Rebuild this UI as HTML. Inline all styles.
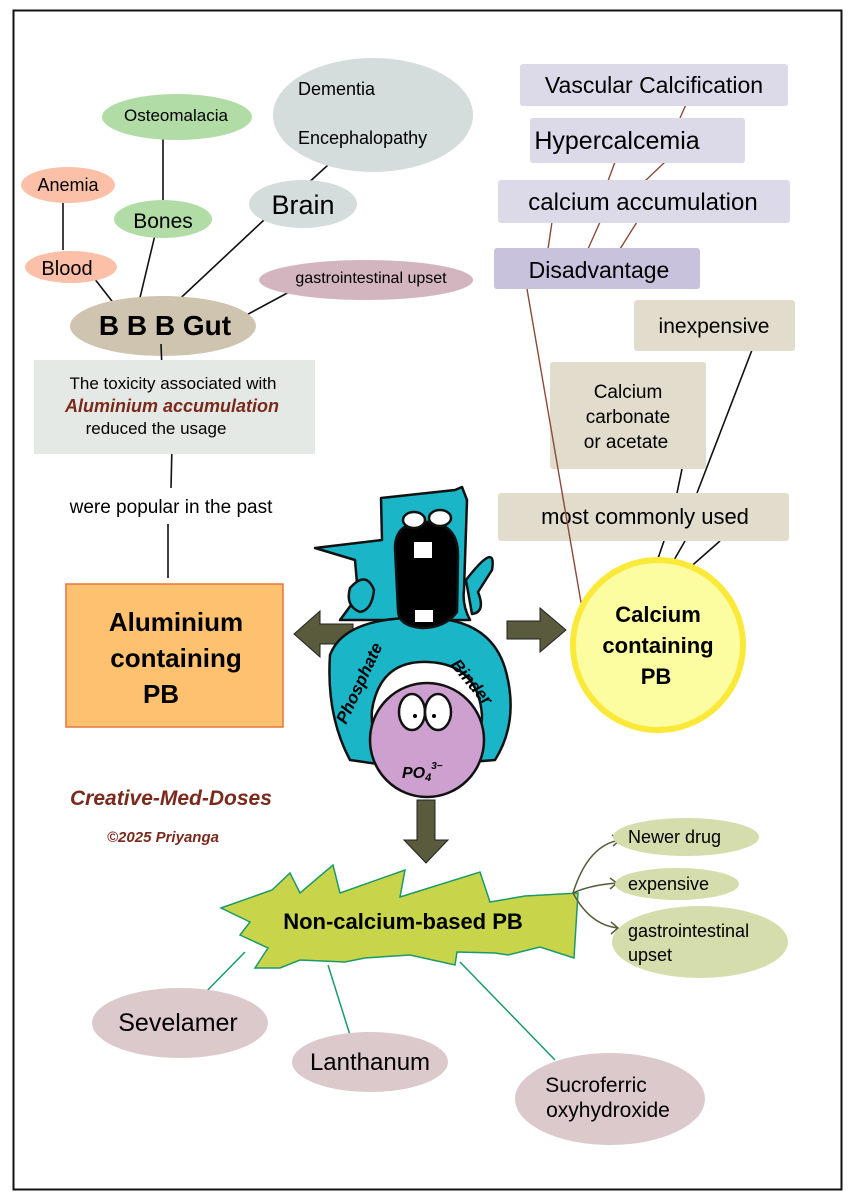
<!DOCTYPE html>
<html><head><meta charset="utf-8">
<style>
html,body{margin:0;padding:0;background:#fff;}
svg{display:block;}
text{font-family:"Liberation Sans",sans-serif;}
.hand{font-family:"Liberation Sans",sans-serif;font-weight:bold;font-style:italic;}
</style></head><body>
<svg width="857" height="1200" viewBox="0 0 857 1200" xmlns="http://www.w3.org/2000/svg">
<rect x="0" y="0" width="857" height="1200" fill="#fff"/>
<rect x="13.5" y="10.5" width="828" height="1179" fill="none" stroke="#111" stroke-width="2"/>

<g stroke="#111" stroke-width="1.6" fill="none">
<line x1="163" y1="130" x2="163" y2="201"/>
<line x1="63" y1="203" x2="63" y2="250"/>
<line x1="94" y1="278" x2="115" y2="305"/>
<line x1="155" y1="235" x2="138" y2="306"/>
<line x1="265" y1="219" x2="170" y2="308"/>
<line x1="340" y1="154" x2="305" y2="186"/>
<line x1="291" y1="291" x2="228" y2="325"/>
<line x1="172" y1="445" x2="171" y2="488"/>
<line x1="168" y1="524" x2="168" y2="578"/>
</g>

<ellipse cx="373" cy="115" rx="100" ry="57" fill="#d4dcdc"/>
<text x="298" y="95" font-size="18">Dementia</text>
<text x="298" y="144" font-size="18">Encephalopathy</text>
<ellipse cx="177" cy="117" rx="75" ry="23" fill="#b1dca6"/>
<text x="176" y="121" font-size="17" text-anchor="middle">Osteomalacia</text>
<ellipse cx="68" cy="185" rx="47" ry="18" fill="#fcc0a8"/>
<text x="68" y="191" font-size="18" text-anchor="middle">Anemia</text>
<ellipse cx="163" cy="219" rx="49" ry="19" fill="#b1dca6"/>
<text x="163" y="228" font-size="21" text-anchor="middle">Bones</text>
<ellipse cx="303" cy="204" rx="54" ry="24" fill="#d4dcdc"/>
<text x="303" y="214" font-size="27" text-anchor="middle">Brain</text>
<ellipse cx="71" cy="267" rx="46" ry="16" fill="#fcc0a8"/>
<text x="67" y="275" font-size="20" text-anchor="middle">Blood</text>
<ellipse cx="366" cy="280" rx="107" ry="20" fill="#d3b5c0"/>
<text x="371" y="283" font-size="16" text-anchor="middle">gastrointestinal upset</text>
<ellipse cx="163" cy="326" rx="93" ry="30" fill="#cfc4b0"/>
<text x="165" y="335" font-size="28" font-weight="bold" text-anchor="middle">B B B Gut</text>
<line x1="161" y1="344" x2="162" y2="370" stroke="#111" stroke-width="1.6"/>

<rect x="34" y="360" width="281" height="94" fill="#e5e9e6"/>
<text x="173" y="389" font-size="17" text-anchor="middle">The toxicity associated with</text>
<text x="172" y="412" font-size="18" font-weight="bold" fill="#7a2a1c" text-anchor="middle" font-style="italic">Aluminium accumulation</text>
<text x="156" y="434" font-size="17" text-anchor="middle">reduced the usage</text>
<text x="171" y="513" font-size="19" text-anchor="middle">were popular in the past</text>

<rect x="66" y="584" width="217" height="143" fill="#fec16f" stroke="#e8743e" stroke-width="1.5"/>
<text x="176" y="631" font-size="26" font-weight="bold" text-anchor="middle">Aluminium</text>
<text x="176" y="667" font-size="26" font-weight="bold" text-anchor="middle">containing</text>
<text x="161" y="703" font-size="26" font-weight="bold" text-anchor="middle">PB</text>

<text x="70" y="805" class="hand" font-size="21" fill="#7a2a1c">Creative-Med-Doses</text>
<text x="107" y="842" class="hand" font-size="15" fill="#7a2a1c">©2025 Priyanga</text>

<g stroke="#8b4a3a" stroke-width="1.4" fill="none">
<line x1="688" y1="100" x2="680" y2="118"/>
<line x1="615" y1="162" x2="608" y2="181"/>
<line x1="665" y1="162" x2="645" y2="181"/>
<line x1="552" y1="222" x2="548" y2="249"/>
<line x1="600" y1="222" x2="588" y2="249"/>
<line x1="637" y1="222" x2="620" y2="249"/>
</g>
<g stroke="#111" stroke-width="1.6" fill="none">
<line x1="752" y1="350" x2="697" y2="493"/>
<line x1="682" y1="469" x2="677" y2="493"/>
<line x1="664" y1="541" x2="655" y2="567"/>
<line x1="685" y1="541" x2="670" y2="567"/>
<line x1="720" y1="541" x2="687" y2="570"/>
</g>
<rect x="520" y="64" width="268" height="42" rx="3" fill="#dcdae8"/>
<text x="654" y="93" font-size="23" text-anchor="middle">Vascular Calcification</text>
<rect x="530" y="118" width="215" height="45" rx="3" fill="#dcdae8"/>
<text x="617" y="149" font-size="25" text-anchor="middle">Hypercalcemia</text>
<rect x="498" y="180" width="292" height="43" rx="3" fill="#dcdae8"/>
<text x="643" y="210" font-size="24" text-anchor="middle">calcium accumulation</text>
<rect x="494" y="248" width="206" height="41" rx="3" fill="#c8c2dc"/>
<text x="599" y="278" font-size="23" text-anchor="middle">Disadvantage</text>
<rect x="634" y="300" width="161" height="51" rx="3" fill="#e2dccd"/>
<text x="714" y="333" font-size="21" text-anchor="middle">inexpensive</text>
<rect x="550" y="362" width="156" height="107" rx="3" fill="#e2dccd"/>
<text x="628" y="398" font-size="19" text-anchor="middle">Calcium</text>
<text x="628" y="423" font-size="19" text-anchor="middle">carbonate</text>
<text x="626" y="448" font-size="19" text-anchor="middle">or acetate</text>
<rect x="498" y="493" width="291" height="48" rx="3" fill="#e2dccd"/>
<text x="645" y="524" font-size="22" text-anchor="middle">most commonly used</text>
<line x1="527" y1="289" x2="583" y2="614" stroke="#8b4a3a" stroke-width="1.4"/>

<circle cx="658" cy="645" r="85" fill="#fcfca0" stroke="#fbe93a" stroke-width="6"/>
<text x="658" y="622" font-size="22" font-weight="bold" text-anchor="middle">Calcium</text>
<text x="658" y="653" font-size="22" font-weight="bold" text-anchor="middle">containing</text>
<text x="656" y="684" font-size="22" font-weight="bold" text-anchor="middle">PB</text>

<g fill="#5a5a3c" stroke="#222" stroke-width="1">
<polygon points="353,624 320,624 320,611 294,634 320,657 320,644 353,644"/>
<polygon points="507,621 540,621 540,608 566,630 540,652 540,639 507,639"/>
<polygon points="417,800 435,800 435,840 448,840 426,863 404,840 417,840"/>
</g>

<g stroke="#111" stroke-width="2.5" stroke-linejoin="round">
<path d="M381,498 L455,490 L462,487 L467,500 L464,590 Q462,605 470,620 L340,620 Q352,604 358,595 L355,560 L315,548 L382,540 Z" fill="#1ab6c8"/>
<path d="M350,588 Q366,570 374,590 Q372,610 360,612 Q345,606 350,588Z" fill="#1ab6c8"/>
<path d="M466,580 Q497,540 492,570 L478,592 Q486,612 472,614 Z" fill="#1ab6c8"/>
<path d="M330,655 Q326,715 350,760 L385,765 Q370,735 372,710 Q380,660 428,662 Q478,664 482,715 Q482,735 470,762 L495,760 Q520,720 505,668 Q490,620 430,618 Q345,615 330,655Z" fill="#1ab6c8"/>
<circle cx="427" cy="740" r="57" fill="#cda0d0"/>
<path d="M395,548 Q395,520 430,522 Q458,525 458,555 L457,612 Q445,628 422,628 Q398,626 398,610 Z" fill="#000"/>
<ellipse cx="412" cy="712" rx="13" ry="18" fill="#fff"/>
<ellipse cx="438" cy="712" rx="13" ry="18" fill="#fff"/>
<ellipse cx="414" cy="520" rx="11" ry="8" fill="#fff"/>
<ellipse cx="440" cy="518" rx="11" ry="8" fill="#fff"/>
</g>
<rect x="414" y="542" width="18" height="16" fill="#fff"/>
<rect x="415" y="610" width="18" height="12" fill="#fff"/>
<circle cx="415" cy="716" r="2" fill="#000"/><circle cx="434" cy="716" r="2" fill="#000"/>
<text x="402" y="778" font-size="16" class="hand">PO<tspan font-size="11" dy="3">4</tspan><tspan font-size="10" dy="-12">3−</tspan></text>
<text class="hand" font-size="17" transform="translate(346,725) rotate(-65)">Phosphate</text>
<text class="hand" font-size="17" transform="translate(450,665) rotate(50)">Binder</text>

<path d="M221,908 L272,890 L290,873 L300,893 L333,865 L340,893 L405,870 L400,897 L480,872 L490,902 L525,896 L578,893 L574,958 L540,947 L508,955 L495,953 L457,952 L455,965 L410,955 L365,958 L345,962 L300,960 L280,968 L255,968 L268,948 L240,935 L250,922 Z" fill="#c8d54a" stroke="#1a9a6a" stroke-width="1.5"/>
<text x="403" y="929" font-size="22" font-weight="bold" text-anchor="middle">Non-calcium-based PB</text>

<g stroke="#1a9a6a" stroke-width="1.5">
<line x1="245" y1="952" x2="198" y2="1000"/>
<line x1="328" y1="965" x2="350" y2="1035"/>
<line x1="460" y1="962" x2="555" y2="1060"/>
</g>
<g stroke="#5a5a3c" stroke-width="1.5" fill="none">
<path d="M573,893 Q588,845 620,840"/>
<path d="M573,893 Q590,885 617,883"/>
<path d="M573,893 Q590,925 618,928"/>
<path d="M612,835 L620,840 L613,846"/>
<path d="M610,878 L617,883 L610,889"/>
<path d="M611,922 L618,928 L611,934"/>
</g>
<ellipse cx="686" cy="837" rx="73" ry="19" fill="#d5ddac"/>
<text x="628" y="843" font-size="18">Newer drug</text>
<ellipse cx="677" cy="884" rx="62" ry="16" fill="#d5ddac"/>
<text x="628" y="890" font-size="18">expensive</text>
<ellipse cx="700" cy="942" rx="88" ry="36" fill="#d5ddac"/>
<text x="628" y="937" font-size="18">gastrointestinal</text>
<text x="628" y="961" font-size="18">upset</text>

<ellipse cx="180" cy="1023" rx="88" ry="35" fill="#dcc9cb"/>
<text x="178" y="1031" font-size="25" text-anchor="middle">Sevelamer</text>
<ellipse cx="370" cy="1062" rx="78" ry="30" fill="#dcc9cb"/>
<text x="370" y="1070" font-size="24" text-anchor="middle">Lanthanum</text>
<ellipse cx="610" cy="1099" rx="95" ry="46" fill="#dcc9cb"/>
<text x="596" y="1092" font-size="21" text-anchor="middle">Sucroferric</text>
<text x="608" y="1117" font-size="21" text-anchor="middle">oxyhydroxide</text>
</svg>
</body></html>
